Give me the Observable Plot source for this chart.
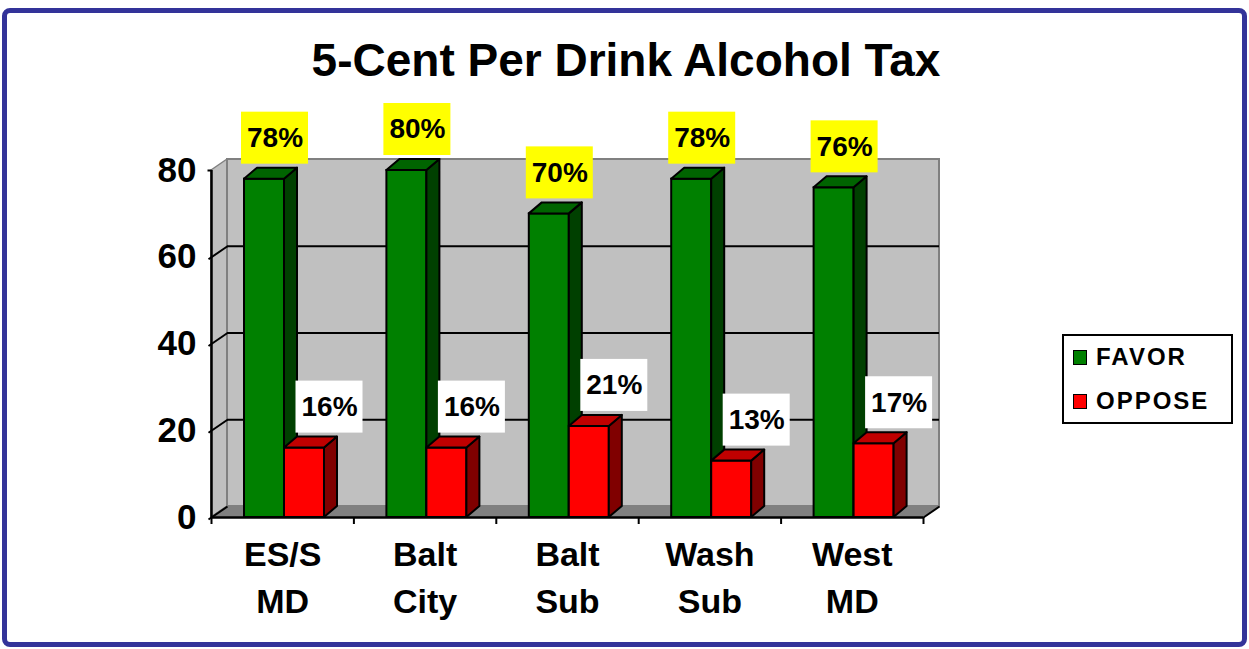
<!DOCTYPE html>
<html>
<head>
<meta charset="utf-8">
<script src="https://cdn.jsdelivr.net/npm/d3@7"></script>
<script src="https://cdn.jsdelivr.net/npm/@observablehq/plot@0.6"></script>
<style>
  html, body { margin: 0; padding: 0; background: #ffffff; }
  #wrap { position: relative; width: 1249px; height: 649px; overflow: hidden; font-family: "Liberation Sans", Arial, sans-serif; }
  #frame { position: absolute; left: 2px; top: 8px; width: 1235px; height: 629px; border: 5px solid #333399; border-radius: 8px; }
  #title { position: absolute; left: 0; width: 1252px; top: 37px; text-align: center; font-size: 46px; line-height: 1; font-weight: bold; color: #000; }
  #chart { position: absolute; left: 0; top: 95px; }
  #legend { position: absolute; left: 1062px; top: 334px; width: 167px; height: 86px; border: 2px solid #000; background: #fff; }
  .item { position: absolute; left: 9px; height: 24px; display: flex; align-items: center; font-size: 24px; font-weight: bold; letter-spacing: 2px; color: #000; }
  .sw { width: 12px; height: 13px; border: 1.5px solid #000; margin-right: 9px; }
</style>
</head>
<body>
<div id="wrap">
  <div id="frame"></div>
  <div id="title"></div>
  <div id="chart"></div>
  <div id="legend"></div>
</div>
<script>
// ---- data ----
const title = "5-Cent Per Drink Alcohol Tax";
const categories = ["ES/S\nMD", "Balt\nCity", "Balt\nSub", "Wash\nSub", "West\nMD"];
const favor = [78, 80, 70, 78, 76];
const oppose = [16, 16, 21, 13, 17];
const seriesNames = ["FAVOR", "OPPOSE"];
const yTicks = [0, 20, 40, 60, 80];

// ---- styling / geometry ----
const PXX = 142.4;          // px per category unit
const PXY = 4.3375;         // px per value unit
const xu = p => p / PXX, yu = p => p / PXY;
const series = [
  {name: seriesNames[0], values: favor,  off: xu(33), front: "#008000", side: "#004000", top: "#006400", box: "#ffff00", lab: xu(10.5)},
  {name: seriesNames[1], values: oppose, off: xu(73), front: "#ff0000", side: "#800000", top: "#c00000", box: "#ffffff", lab: xu(25)}
];
const BW = xu(40), BD = xu(13), BE = yu(11);   // bar width, depth x, depth y
const WD = xu(16), WE = yu(11);                // wall depth
const N = categories.length, YMAX = 80;

document.getElementById("title").textContent = title;

const marks = [];
// left side wall
marks.push(Plot.area([{x: 0, y1: 0, y2: YMAX}, {x: WD, y1: WE, y2: YMAX + WE}],
  {x1: "x", y1: "y1", y2: "y2", fill: "#c0c0c0", stroke: "#808080", strokeWidth: 1.5}));
// back wall
marks.push(Plot.rect([{}], {x1: WD, x2: N + WD, y1: WE, y2: YMAX + WE, fill: "#c0c0c0", stroke: "#808080", strokeWidth: 2}));
// floor
marks.push(Plot.area([{y: 0, a: 0, b: N}, {y: WE, a: WD, b: N + WD}],
  {y1: "y", x1: "a", x2: "b", fill: "#808080", stroke: "#808080", strokeWidth: 1}));
// back-wall gridlines
marks.push(Plot.ruleY(yTicks.filter(t => t > 0 && t < YMAX), {y: d => d + WE, x1: WD, x2: N + WD, stroke: "#000", strokeWidth: 2}));
// side-wall gridlines / ticks (slanted)
marks.push(Plot.link(yTicks.filter(t => t < YMAX), {x1: -xu(3), y1: d => d - yu(2), x2: WD, y2: d => d + WE, stroke: "#000", strokeWidth: 2}));
marks.push(Plot.link([YMAX], {x1: -xu(4), y1: d => d, x2: 0, y2: d => d, stroke: "#000", strokeWidth: 2}));
// axes lines
marks.push(Plot.ruleX([0], {y1: 0, y2: YMAX, stroke: "#000", strokeWidth: 2.5}));
marks.push(Plot.ruleY([0], {x1: 0, x2: N, stroke: "#000", strokeWidth: 2.5}));
marks.push(Plot.link([0], {x1: N, y1: 0, x2: N + WD, y2: WE, stroke: "#000", strokeWidth: 2}));
marks.push(Plot.ruleX(d3.range(N + 1), {y1: 0, y2: -yu(7), stroke: "#000", strokeWidth: 2}));

// bars
for (const s of series) {
  const fronts = s.values.map((v, i) => ({x1: i + s.off, x2: i + s.off + BW, v}));
  const sides = s.values.flatMap((v, i) => {
    const x = i + s.off + BW;
    return [{k: i, x, y1: 0, y2: v}, {k: i, x: x + BD, y1: BE, y2: v + BE}];
  });
  const tops = s.values.flatMap((v, i) => {
    const a = i + s.off, b = a + BW;
    return [{k: i, y: v, a, b}, {k: i, y: v + BE, a: a + BD, b: b + BD}];
  });
  marks.push(Plot.rect(fronts, {x1: "x1", x2: "x2", y1: 0, y2: "v", fill: s.front, stroke: "#000", strokeWidth: 2}));
  marks.push(Plot.area(sides, {x1: "x", y1: "y1", y2: "y2", z: "k", fill: s.side, stroke: "#000", strokeWidth: 2}));
  marks.push(Plot.area(tops, {y1: "y", x1: "a", x2: "b", z: "k", fill: s.top, stroke: "#000", strokeWidth: 2}));
}

// value label boxes
for (const s of series) {
  const labs = s.values.map((v, i) => ({cx: i + s.off + BW / 2 + s.lab, v, t: v + "%"}));
  marks.push(Plot.rect(labs, {x1: d => d.cx - xu(33.5), x2: d => d.cx + xu(33.5), y1: d => d.v + yu(15), y2: d => d.v + yu(67), fill: s.box}));
  marks.push(Plot.text(labs, {x: "cx", y: d => d.v + yu(41), text: "t", fontSize: 28, fontWeight: "bold", fill: "#000"}));
}

// y tick labels
marks.push(Plot.text(yTicks, {x: 0, y: d => d, text: d => String(d), textAnchor: "end", dx: -15, fontSize: 35, fontWeight: "bold", fill: "#000"}));
// category labels
marks.push(Plot.text(categories, {x: (d, i) => i + 0.5, y: 0, text: d => d, lineAnchor: "top", dy: 14, lineHeight: 1.41, fontSize: 34, fontWeight: "bold", fill: "#000"}));

const chart = Plot.plot({
  width: 1249,
  height: 554,
  marginLeft: 211,
  marginRight: 326,
  marginTop: 75,
  marginBottom: 132,
  x: {type: "linear", domain: [0, N], axis: null},
  y: {type: "linear", domain: [0, YMAX], axis: null},
  style: {fontFamily: "'Liberation Sans', Arial, sans-serif", background: "transparent", overflow: "visible"},
  marks
});
document.getElementById("chart").appendChild(chart);

// legend
const leg = document.getElementById("legend");
series.forEach((s, j) => {
  const it = document.createElement("div");
  it.className = "item";
  it.style.top = (j === 0 ? 9 : 53) + "px";
  const sw = document.createElement("div");
  sw.className = "sw";
  sw.style.background = s.front;
  const tx = document.createElement("span");
  tx.textContent = s.name;
  it.appendChild(sw);
  it.appendChild(tx);
  leg.appendChild(it);
});
</script>
</body>
</html>
